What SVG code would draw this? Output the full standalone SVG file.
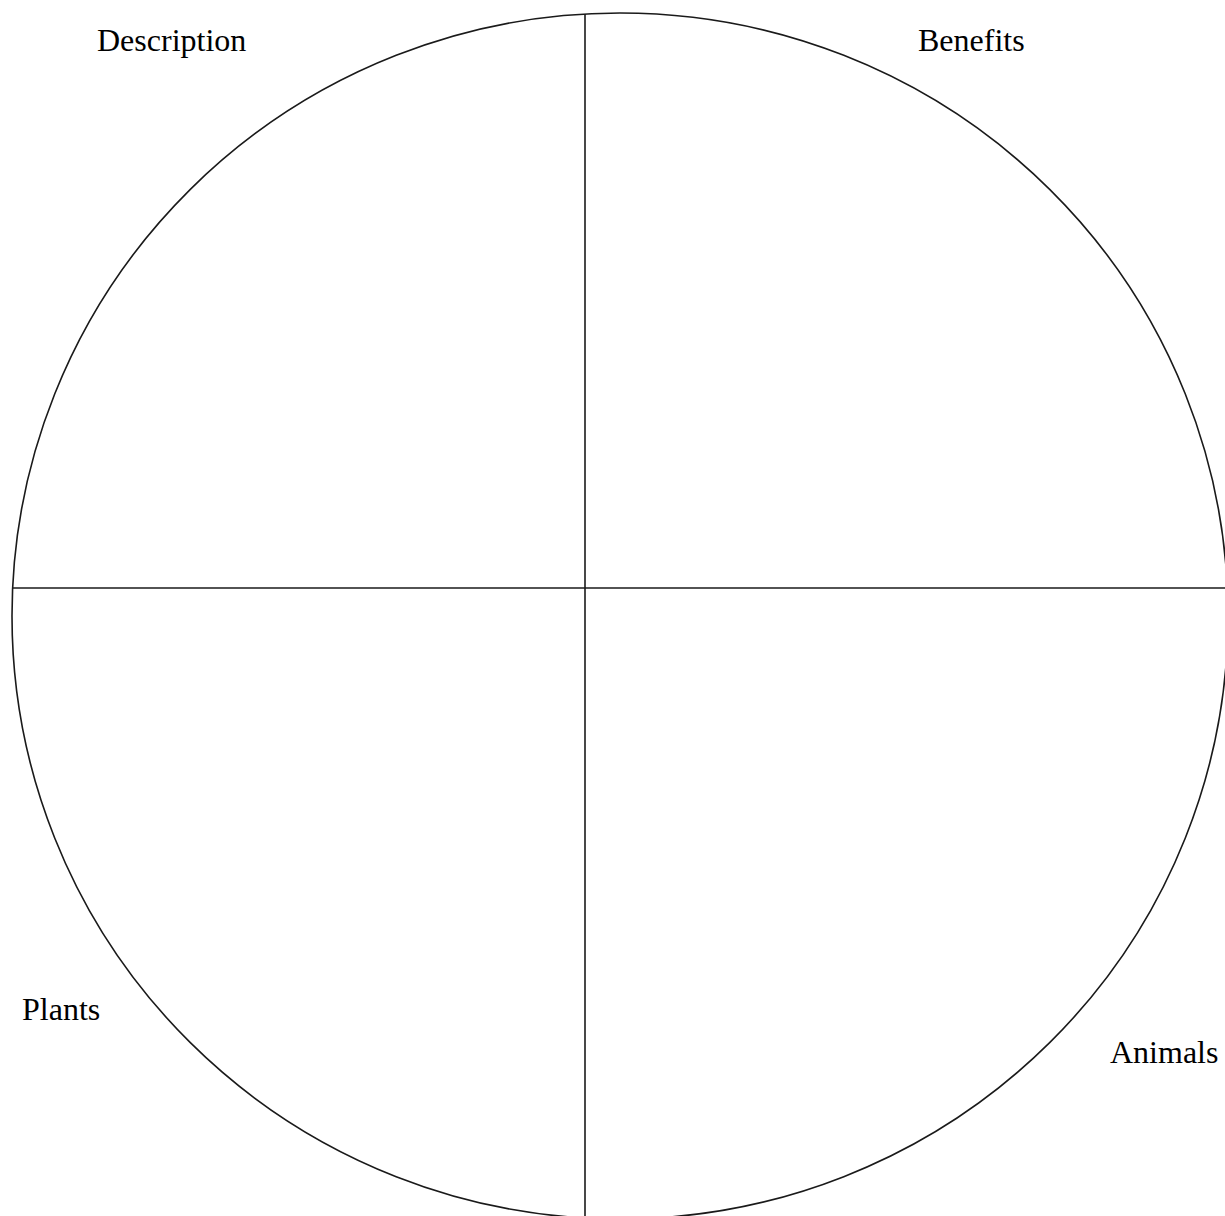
<svg xmlns="http://www.w3.org/2000/svg" width="1225" height="1216" viewBox="0 0 1225 1216">
<style>
.lbl{font-family:"Liberation Serif","Times New Roman",serif;font-size:32px;fill:#000}
.ln{stroke:#1a1a1a;stroke-width:1.6;fill:none}
</style>
<rect width="1225" height="1216" fill="#fff"/>
<g id="connectors">
<ellipse id="circle" class="ln" cx="620" cy="616" rx="608" ry="603"/>
<line class="ln" x1="585" y1="14" x2="585" y2="1216"/>
<line class="ln" x1="12" y1="588" x2="1225" y2="588"/>
</g>
<g id="description"><text class="lbl" x="97" y="51">Description</text></g>
<g id="benefits"><text class="lbl" x="918" y="51">Benefits</text></g>
<g id="plants"><text class="lbl" x="22" y="1020">Plants</text></g>
<g id="animals"><text class="lbl" x="1110" y="1063">Animals</text></g>
</svg>
